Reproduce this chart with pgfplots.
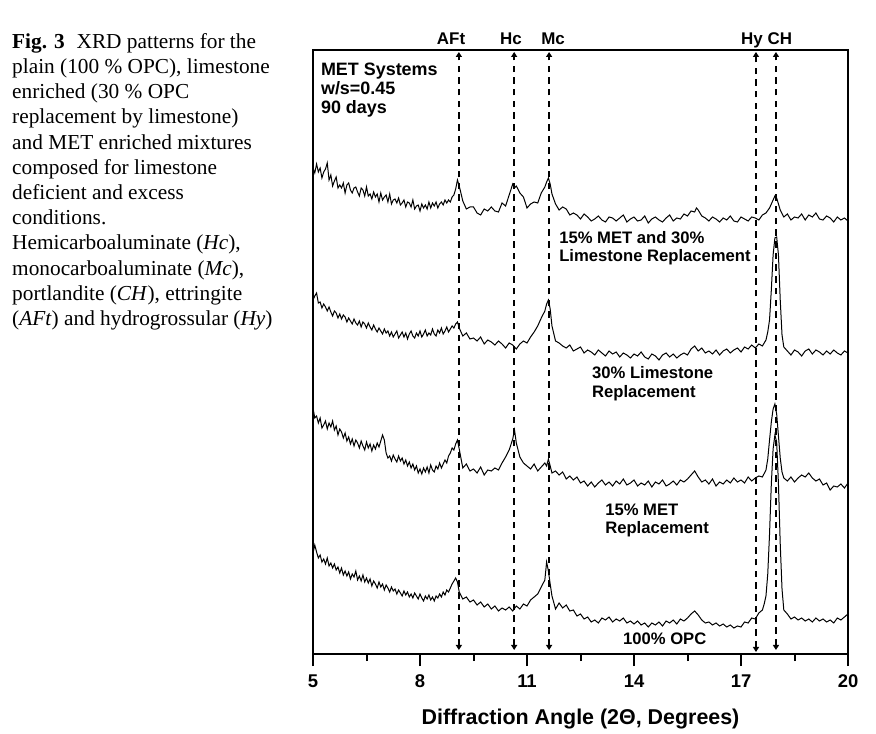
\documentclass[border=0pt]{standalone}
\usepackage{fontspec}
\setmainfont{Liberation Serif}
\setsansfont{Liberation Sans}
\usepackage{pgfplots}
\pgfplotsset{compat=1.18}
\usetikzlibrary{arrows.meta}

\tikzset{
  peak/.style={line width=2.2bp, dash pattern=on 6.5bp off 5.2bp,
    {Triangle[width=6bp,length=5bp]}-{Triangle[width=6bp,length=5bp]}},
  lbl/.style={font=\sffamily\bfseries\fontsize{16.7}{18}\selectfont, anchor=base west, inner sep=0pt},
  top/.style={font=\sffamily\bfseries\fontsize{17}{18}\selectfont, anchor=base, inner sep=0pt},
  xrd/.style={black, line width=1bp, mark=none},
}

\begin{document}
\begin{tikzpicture}
\useasboundingbox (0bp,0bp) rectangle (876bp,734bp);

% caption
\node[anchor=north west, align=left, inner sep=0pt,
      font=\fontsize{21.4}{25.3}\selectfont] at (12bp,701bp) {%
\textbf{Fig. 3}\hspace{0.55em}XRD patterns for the\\
plain (100 \% OPC), limestone\\
enriched (30 \% OPC\\
replacement by limestone)\\
and MET enriched mixtures\\
composed for limestone\\
deficient and excess\\
conditions.\\
Hemicarboaluminate (\textit{Hc}),\\
monocarboaluminate (\textit{Mc}),\\
portlandite (\textit{CH}), ettringite\\
(\textit{AFt}) and hydrogrossular (\textit{Hy})};

\begin{axis}[
  at={(313bp,80bp)}, anchor=south west,
  scale only axis, width=535bp, height=604bp,
  xmin=5, xmax=20, ymin=0, ymax=604,
  xtick={5,8,...,20}, minor x tick num=1,
  ytick=\empty, xtick pos=bottom,
  tick align=outside,
  major tick length=12bp, minor tick length=7bp,
  every tick/.style={line width=2bp, black},
  axis line style={line width=2.2bp},
  clip=false,
  /pgf/number format/assume math mode=true,
  ticklabel style={font=\sffamily\bfseries\fontsize{18.5}{19}\selectfont},
  xticklabel style={yshift=-5bp},
  xlabel={Diffraction Angle (2Θ, Degrees)},
  xlabel style={font=\sffamily\bfseries\fontsize{21.5}{22}\selectfont,
    at={(axis description cs:0.5,0)}, anchor=base, yshift=-70bp},
]

% 15% MET and 30% limestone
\addplot[xrd] coordinates {
(5.00,486)(5.05,481)(5.10,490)(5.15,482)(5.20,486)(5.25,476)(5.30,482)(5.35,485)(5.40,491)(5.45,474)
(5.50,479)(5.55,468)(5.60,473)(5.65,477)(5.70,466)(5.75,469)(5.80,466)(5.85,471)(5.90,461)(5.95,469)
(6.00,471)(6.05,464)(6.10,461)(6.15,466)(6.20,467)(6.25,462)(6.30,458)(6.35,466)(6.40,464)(6.45,458)
(6.50,467)(6.55,458)(6.60,460)(6.65,455)(6.70,462)(6.75,457)(6.80,460)(6.85,452)(6.90,461)(6.95,454)
(7.00,457)(7.05,459)(7.10,452)(7.15,460)(7.20,450)(7.25,454)(7.30,455)(7.35,451)(7.40,456)(7.45,449)
(7.50,451)(7.55,454)(7.60,447)(7.65,452)(7.70,451)(7.75,447)(7.80,454)(7.85,445)(7.90,448)(7.95,449)
(8.00,443)(8.05,450)(8.10,446)(8.15,449)(8.20,445)(8.25,452)(8.30,446)(8.35,451)(8.40,448)(8.45,452)
(8.50,446)(8.55,450)(8.60,452)(8.65,449)(8.70,454)(8.75,451)(8.80,454)(8.85,452)(8.90,457)(8.95,459)
(9.00,465)(9.05,474)(9.10,468)(9.2,453)(9.3,445)(9.4,447)(9.5,447)(9.6,441)(9.7,439)(9.8,445)(9.9,443)
(10.0,447)(10.1,443)(10.2,442)(10.3,451)(10.4,448)(10.5,459)(10.6,470)(10.65,466)(10.7,468)(10.8,461)(10.9,457)
(11.0,446)(11.1,450)(11.2,452)(11.3,451)(11.4,461)(11.5,467)(11.55,472)(11.6,476)(11.65,470)(11.7,460)
(11.8,450)(11.9,444)(12.0,447)(12.1,445)(12.2,439)(12.3,441)(12.4,439)(12.5,435)(12.6,440)(12.7,437)
(12.8,433)(12.9,435)(13.0,438)(13.1,434)(13.2,432)(13.3,437)(13.4,436)(13.5,433)(13.6,436)(13.7,439)
(13.8,432)(13.9,435)(14.0,437)(14.1,433)(14.2,434)(14.3,438)(14.4,431)(14.5,435)(14.6,437)(14.7,434)
(14.8,432)(14.9,436)(15.0,439)(15.1,433)(15.2,436)(15.3,435)(15.4,440)(15.5,438)(15.6,443)(15.7,442)
(15.75,446)(15.8,444)(15.9,438)(16.0,436)(16.1,433)(16.2,437)(16.3,435)(16.4,432)(16.5,436)(16.6,434)
(16.7,438)(16.8,433)(16.9,432)(17.0,437)(17.1,435)(17.2,433)(17.3,437)(17.4,436)(17.5,434)(17.6,439)
(17.7,441)(17.8,446)(17.9,454)(17.95,458)(18.0,456)(18.05,450)(18.1,444)(18.2,437)(18.3,440)(18.4,434)
(18.5,437)(18.6,436)(18.7,440)(18.8,434)(18.9,439)(19.0,437)(19.1,441)(19.2,435)(19.3,434)(19.4,438)
(19.5,436)(19.6,432)(19.7,437)(19.8,434)(19.9,436)(20.0,433)
};

% 30% limestone
\addplot[xrd] coordinates {
(5.00,354)(5.05,358)(5.10,361)(5.15,351)(5.20,352)(5.25,346)(5.30,350)(5.35,347)(5.40,343)(5.45,347)
(5.50,342)(5.55,338)(5.60,343)(5.65,341)(5.70,336)(5.75,340)(5.80,335)(5.85,339)(5.90,337)(5.95,332)
(6.00,336)(6.05,333)(6.10,330)(6.15,335)(6.20,331)(6.25,329)(6.30,333)(6.35,327)(6.40,332)(6.45,330)
(6.50,326)(6.55,331)(6.60,327)(6.65,324)(6.70,329)(6.75,325)(6.80,322)(6.85,326)(6.90,323)(6.95,320)
(7.00,325)(7.05,321)(7.10,323)(7.15,318)(7.20,322)(7.25,317)(7.30,320)(7.35,323)(7.40,316)(7.45,319)
(7.50,322)(7.55,317)(7.60,321)(7.65,315)(7.70,320)(7.75,323)(7.80,318)(7.85,316)(7.90,321)(7.95,318)
(8.00,323)(8.05,317)(8.10,320)(8.15,324)(8.20,318)(8.25,321)(8.30,319)(8.35,325)(8.40,320)(8.45,318)
(8.50,324)(8.55,321)(8.60,326)(8.65,320)(8.70,323)(8.75,327)(8.80,322)(8.85,325)(8.90,328)(8.95,326)
(9.00,330)(9.05,332)(9.10,326)(9.2,318)(9.3,321)(9.4,315)(9.5,316)(9.6,313)(9.7,317)(9.8,310)(9.9,314)
(10.0,312)(10.1,309)(10.2,313)(10.3,310)(10.4,306)(10.5,311)(10.6,309)(10.7,305)(10.8,310)(10.9,313)
(11.0,311)(11.1,317)(11.2,322)(11.3,328)(11.4,336)(11.5,343)(11.55,350)(11.6,354)(11.65,345)(11.7,328)
(11.8,313)(11.9,311)(12.0,308)(12.1,306)(12.2,309)(12.3,303)(12.4,305)(12.5,307)(12.6,301)(12.7,304)
(12.8,302)(12.9,299)(13.0,304)(13.1,301)(13.2,298)(13.3,303)(13.4,300)(13.5,302)(13.6,297)(13.7,301)
(13.8,299)(13.9,296)(14.0,300)(14.1,298)(14.2,302)(14.3,297)(14.4,295)(14.5,300)(14.6,298)(14.7,294)
(14.8,299)(14.9,301)(15.0,297)(15.1,300)(15.2,296)(15.3,299)(15.4,301)(15.5,299)(15.6,305)(15.7,308)
(15.8,303)(15.9,306)(16.0,301)(16.1,303)(16.2,300)(16.3,304)(16.4,299)(16.5,303)(16.6,305)(16.7,301)
(16.8,304)(16.9,306)(17.0,302)(17.1,307)(17.2,305)(17.3,309)(17.4,306)(17.5,310)(17.6,308)(17.7,314)
(17.75,322)(17.8,334)(17.85,364)(17.9,399)(17.95,416)(18.0,417)(18.05,399)(18.1,354)(18.15,319)(18.2,307)
(18.3,303)(18.4,299)(18.5,304)(18.6,302)(18.7,298)(18.8,303)(18.9,305)(19.0,300)(19.1,304)(19.2,302)
(19.3,299)(19.4,303)(19.5,300)(19.6,304)(19.7,301)(19.8,299)(19.9,303)(20.0,301)
};

% 15% MET
\addplot[xrd] coordinates {
(5.00,246)(5.05,236)(5.10,238)(5.15,231)(5.20,236)(5.25,226)(5.30,229)(5.35,233)(5.40,225)(5.45,231)
(5.50,227)(5.55,233)(5.60,224)(5.65,228)(5.70,219)(5.75,225)(5.80,222)(5.85,216)(5.90,221)(5.95,213)
(6.00,217)(6.05,210)(6.10,215)(6.15,208)(6.20,214)(6.25,211)(6.30,206)(6.35,213)(6.40,208)(6.45,204)
(6.50,212)(6.55,206)(6.60,210)(6.65,203)(6.70,209)(6.75,205)(6.80,211)(6.85,207)(6.90,213)(6.95,219)
(7.00,214)(7.05,201)(7.10,196)(7.15,198)(7.20,193)(7.25,199)(7.30,195)(7.35,192)(7.40,198)(7.45,193)
(7.50,196)(7.55,190)(7.60,194)(7.65,188)(7.70,192)(7.75,186)(7.80,190)(7.85,184)(7.90,188)(7.95,181)
(8.00,185)(8.05,180)(8.10,186)(8.15,182)(8.20,187)(8.25,181)(8.30,189)(8.35,184)(8.40,182)(8.45,188)
(8.50,185)(8.55,191)(8.60,186)(8.65,190)(8.70,194)(8.75,191)(8.80,198)(8.85,201)(8.90,206)(8.95,204)
(9.00,210)(9.05,214)(9.10,205)(9.2,186)(9.3,190)(9.4,183)(9.5,185)(9.6,181)(9.7,187)(9.8,179)(9.9,184)
(10.0,183)(10.1,186)(10.2,184)(10.3,191)(10.4,197)(10.5,204)(10.6,215)(10.65,224)(10.7,211)(10.8,197)
(10.9,191)(11.0,188)(11.1,185)(11.2,190)(11.3,183)(11.4,187)(11.5,191)(11.55,188)(11.6,195)(11.7,181)
(11.8,183)(11.9,179)(12.0,182)(12.1,175)(12.2,178)(12.3,174)(12.4,177)(12.5,171)(12.6,173)(12.7,168)
(12.8,172)(12.9,167)(13.0,171)(13.1,174)(13.2,169)(13.3,172)(13.4,168)(13.5,173)(13.6,170)(13.7,175)
(13.8,169)(13.9,171)(14.0,174)(14.1,168)(14.2,171)(14.3,169)(14.4,173)(14.5,167)(14.6,172)(14.7,170)
(14.8,174)(14.9,168)(15.0,170)(15.1,173)(15.2,169)(15.3,174)(15.4,172)(15.5,175)(15.6,179)(15.7,183)
(15.8,177)(15.9,172)(16.0,174)(16.1,170)(16.2,175)(16.3,168)(16.4,172)(16.5,170)(16.6,174)(16.7,171)
(16.8,176)(16.9,172)(17.0,174)(17.1,171)(17.2,177)(17.3,173)(17.4,176)(17.5,178)(17.6,177)(17.7,184)
(17.75,195)(17.8,214)(17.85,232)(17.9,245)(17.95,250)(18.0,240)(18.05,218)(18.1,196)(18.15,182)(18.2,176)
(18.3,173)(18.4,177)(18.5,172)(18.6,176)(18.7,179)(18.8,177)(18.9,181)(19.0,176)(19.1,173)(19.2,175)
(19.3,169)(19.4,171)(19.5,164)(19.6,168)(19.7,167)(19.8,170)(19.9,166)(20.0,171)
};

% 100% OPC
\addplot[xrd] coordinates {
(5.00,101)(5.05,109)(5.10,102)(5.15,96)(5.20,99)(5.25,92)(5.30,95)(5.35,90)(5.40,96)(5.45,88)
(5.50,91)(5.55,86)(5.60,90)(5.65,84)(5.70,87)(5.75,81)(5.80,86)(5.85,79)(5.90,83)(5.95,78)
(6.00,82)(6.05,75)(6.10,80)(6.15,77)(6.20,83)(6.25,74)(6.30,78)(6.35,73)(6.40,79)(6.45,72)
(6.50,76)(6.55,71)(6.60,75)(6.65,68)(6.70,73)(6.75,70)(6.80,66)(6.85,72)(6.90,67)(6.95,70)
(7.00,64)(7.05,69)(7.10,66)(7.15,62)(7.20,67)(7.25,63)(7.30,65)(7.35,60)(7.40,64)(7.45,61)
(7.50,58)(7.55,63)(7.60,59)(7.65,62)(7.70,57)(7.75,60)(7.80,56)(7.85,61)(7.90,58)(7.95,55)
(8.00,60)(8.05,56)(8.10,53)(8.15,58)(8.20,55)(8.25,59)(8.30,54)(8.35,57)(8.40,53)(8.45,58)
(8.50,56)(8.55,60)(8.60,57)(8.65,62)(8.70,59)(8.75,64)(8.80,62)(8.85,66)(8.90,70)(8.95,73)
(9.00,76)(9.05,72)(9.10,62)(9.2,55)(9.3,57)(9.4,52)(9.5,54)(9.6,49)(9.7,52)(9.8,47)(9.9,50)
(10.0,45)(10.1,48)(10.2,43)(10.3,46)(10.4,44)(10.5,47)(10.6,43)(10.7,48)(10.8,45)(10.9,50)
(11.0,48)(11.1,54)(11.2,57)(11.3,60)(11.4,67)(11.5,74)(11.55,92)(11.6,83)(11.65,70)(11.7,58)
(11.8,45)(11.9,51)(12.0,46)(12.1,49)(12.2,43)(12.3,44)(12.4,38)(12.5,40)(12.6,35)(12.7,37)
(12.8,32)(12.9,34)(13.0,31)(13.1,36)(13.2,34)(13.3,37)(13.4,32)(13.5,35)(13.6,33)(13.7,36)
(13.8,31)(13.9,33)(14.0,30)(14.1,33)(14.2,29)(14.3,31)(14.4,27)(14.5,31)(14.6,29)(14.7,32)
(14.8,28)(14.9,33)(15.0,31)(15.1,34)(15.2,30)(15.3,35)(15.4,33)(15.5,36)(15.6,40)(15.7,43)
(15.8,39)(15.9,34)(16.0,31)(16.1,32)(16.2,29)(16.3,31)(16.4,28)(16.5,30)(16.6,27)(16.7,29)
(16.8,26)(16.9,28)(17.0,27)(17.1,32)(17.2,31)(17.3,36)(17.4,35)(17.5,41)(17.6,44)(17.65,50)
(17.7,58)(17.75,80)(17.8,120)(17.85,170)(17.9,205)(17.95,219)(18.0,212)(18.05,170)(18.1,110)(18.15,65)
(18.2,44)(18.3,40)(18.4,35)(18.5,37)(18.6,34)(18.7,36)(18.8,33)(18.9,35)(19.0,32)(19.1,36)
(19.2,33)(19.3,35)(19.4,32)(19.5,34)(19.6,31)(19.7,36)(19.8,34)(19.9,37)(20.0,40)
};

% phase markers
\draw[peak] (axis cs:9.09,4) -- (axis cs:9.09,602);
\draw[peak] (axis cs:10.64,4) -- (axis cs:10.64,602);
\draw[peak] (axis cs:11.62,4) -- (axis cs:11.62,602);
\draw[peak] (axis cs:17.42,2) -- (axis cs:17.42,602);
\draw[peak] (axis cs:17.98,4) -- (axis cs:17.98,602);

\node[top] at (axis cs:8.87,609) {AFt};
\node[top] at (axis cs:10.55,609) {Hc};
\node[top] at (axis cs:11.73,609) {Mc};
\node[top] at (axis cs:17.31,609) {Hy};
\node[top] at (axis cs:18.09,609) {CH};

\node[lbl, font=\sffamily\bfseries\fontsize{18}{19}\selectfont] at (axis cs:5.22,578) {MET Systems};
\node[lbl, font=\sffamily\bfseries\fontsize{18}{19}\selectfont] at (axis cs:5.22,559) {w/s=0.45};
\node[lbl, font=\sffamily\bfseries\fontsize{18}{19}\selectfont] at (axis cs:5.22,540) {90 days};

\node[lbl] at (axis cs:11.90,410) {15\% MET and 30\%};
\node[lbl] at (axis cs:11.90,392) {Limestone Replacement};
\node[lbl] at (axis cs:12.82,275) {30\% Limestone};
\node[lbl] at (axis cs:12.82,256) {Replacement};
\node[lbl] at (axis cs:13.19,138) {15\% MET};
\node[lbl] at (axis cs:13.19,120) {Replacement};
\node[lbl] at (axis cs:13.69,10) {100\% OPC};
\end{axis}
\end{tikzpicture}
\end{document}
